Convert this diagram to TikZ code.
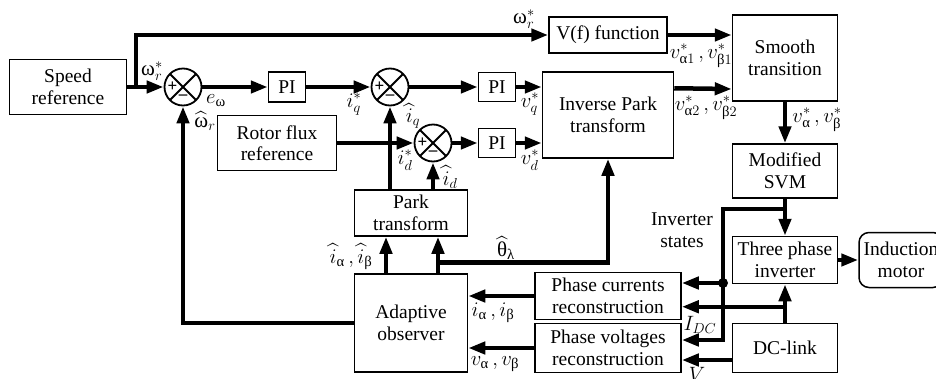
\documentclass[tikz,border=0pt]{standalone}
\usepackage{amsmath}
\usepackage{fontspec}
\setmainfont{Liberation Serif}
\usetikzlibrary{arrows.meta,calc}
% griechische Buchstaben aufrecht, aus der Textschrift
\newcommand{\gom}{\text{ω}}
\newcommand{\gal}{\text{α}}
\newcommand{\gbe}{\text{β}}
\newcommand{\gth}{\text{θ}}
\newcommand{\gla}{\text{λ}}

\begin{document}
\begin{tikzpicture}[x=1pt, y=-1pt, >=Triangle,
    every node/.style={font=\fontsize{19.5}{21.5}\selectfont},
    block/.style={draw, line width=1.5pt, align=center, inner sep=0pt},
    sumnode/.style={draw, circle, line width=1.8pt, minimum size=37pt, inner sep=0pt,
      path picture={
        \draw[line width=1.8pt] (path picture bounding box.south west) -- (path picture bounding box.north east)
          (path picture bounding box.north west) -- (path picture bounding box.south east);
        \node[font=\bfseries\fontsize{17}{17}\selectfont, inner sep=0pt] at ($(path picture bounding box.center)+(-10.5,0)$) {+};
        \node[font=\bfseries\fontsize{17}{17}\selectfont, inner sep=0pt] at ($(path picture bounding box.center)+(0,10.5)$) {--};
      }},
    sig/.style={line width=4.5pt, -{Triangle[length=17pt,width=12pt]}},
    lbl/.style={font=\fontsize{21}{21}\selectfont, inner sep=0pt}]
  \useasboundingbox (0,0) rectangle (936,378);

  % Drehzahlregelkreis
  \node[block, minimum width=117pt, minimum height=55pt] (spdref) at (68,87) {Speed\\reference};
  \node[sumnode] (sumw) at (183,87) {};
  \node[block, minimum width=37pt, minimum height=30pt] (piw) at (287,87) {PI};
  \node[block, minimum width=119pt, minimum height=55pt] (rotflux) at (277,143) {Rotor flux\\reference};

  % Stromregler
  \node[sumnode] (sumq) at (390,87) {};
  \node[sumnode] (sumd) at (433,143) {};
  \node[block, minimum width=37pt, minimum height=29pt] (piq) at (497,87) {PI};
  \node[block, minimum width=37pt, minimum height=29pt] (pid) at (497,143) {PI};
  \node[block, minimum width=131pt, minimum height=86pt] (invpark) at (608,115) {Inverse Park\\transform};
  \node[block, minimum width=118pt, minimum height=36pt] (vf) at (608,35) {V(f) function};

  % Modulation und Leistungsteil
  \node[block, minimum width=105pt, minimum height=86pt] (smooth) at (785,58) {Smooth\\transition};
  \node[block, minimum width=105pt, minimum height=54pt] (svm) at (785,171) {Modified\\SVM};
  \node[block, minimum width=105pt, minimum height=47pt] (inv) at (785,260) {Three phase\\inverter};
  \node[block, rounded corners=10pt, minimum width=84pt, minimum height=55pt] (motor) at (901,260) {Induction\\motor};
  \node[block, minimum width=105pt, minimum height=49pt] (dclink) at (785,348) {DC-link};

  % Rekonstruktion und Beobachter
  \node[block, minimum width=146pt, minimum height=47pt] (phcur) at (608,296) {Phase currents\\reconstruction};
  \node[block, minimum width=146pt, minimum height=49pt] (phvolt) at (608,348) {Phase voltages\\reconstruction};
  \node[block, minimum width=113pt, minimum height=98pt] (obs) at (411,323) {Adaptive\\observer};
  \node[block, minimum width=113pt, minimum height=46pt] (park) at (411,213) {Park\\transform};
  \node[align=center] (invst) at (682,230) {Inverter\\states};

  % Signalpfade oben
  \coordinate (tap) at (136,87);
  \draw[sig] (spdref.east) -- (sumw.west);
  \draw[sig] (tap) |- (vf.west);
  \draw[sig] (sumw) -- (piw);
  \draw[sig] (piw) -- (sumq);
  \draw[sig] (sumq) -- (piq);
  \draw[sig] (piq.east) -- (piq.east -| invpark.west);
  \draw[sig] (rotflux) -- (sumd);
  \draw[sig] (sumd) -- (pid);
  \draw[sig] (pid.east) -- (pid.east -| invpark.west);
  \draw[sig] (park.north -| sumq) -- (sumq);
  \draw[sig] (park.north -| sumd) -- (sumd);
  \draw[sig] (vf.east) -- (vf.east -| smooth.west);
  \draw[sig] ($(invpark.north east)+(0,17)$) -- ($(smooth.west)+(0,31)$);
  \draw[sig] (smooth) -- (svm);

  % Beobachter
  \draw[sig] ([xshift=-25pt]obs.north) -- ([xshift=-25pt]park.south);
  \draw[sig] ([xshift=27pt]obs.north) -- ([xshift=27pt]park.south);
  \draw[sig] ($([xshift=27pt]obs.north)+(0,-11)$) -| (invpark.south);
  \draw[sig] (obs.west) -| (sumw.south);
  \draw[sig] (phcur.west) -- (phcur.west -| obs.east);
  \draw[sig] (phvolt.west) -- (phvolt.west -| obs.east);

  % Wechselrichter
  \coordinate (st) at ($(svm.south)+(0,10)$);
  \coordinate (dot) at (723,283);
  \coordinate (stend) at (723,340);
  \coordinate (idc) at ($(dclink.north)+(0,-16)$);
  \coordinate (vdc) at ($(dclink.west)+(0,12)$);
  \draw[sig] (svm) -- (inv);
  \draw[sig] (st) -| (stend) -- (stend -| phvolt.east);
  \fill (dot) circle (5pt);
  \draw[sig] (dot) -- (dot -| phcur.east);
  \draw[sig] (dclink) -- (inv);
  \draw[sig] (idc) -- (idc -| phcur.east);
  \draw[sig] (vdc) -- (vdc -| phvolt.east);
  \draw[sig] (inv) -- (motor);

  % Beschriftungen
  \node[lbl] (lwin) at (152,71) {$\gom_r^*$};
  \node[lbl] (lwtop) at (524,19) {$\gom_r^*$};
  \node[lbl] (lew) at (216,101) {$e_\gom$};
  \node[lbl] (lwhat) at (205,121) {$\widehat{\gom}_r$};
  \node[lbl] (liq) at (354,104) {$i_q^*$};
  \node[lbl] (liqh) at (413,116) {$\widehat{i}_q$};
  \node[lbl] (lvq) at (530,104) {$v_q^*$};
  \node[lbl] (lid) at (405,160) {$i_d^*$};
  \node[lbl] (lidh) at (450,177) {$\widehat{i}_d$};
  \node[lbl] (lvd) at (530,160) {$v_d^*$};
  \node[lbl] (lv1) at (701,56) {$v^*_{\gal 1}\,,v^*_{\gbe 1}$};
  \node[lbl] (lv2) at (706,108) {$v^*_{\gal 2}\,,v^*_{\gbe 2}$};
  \node[lbl] (lvab) at (817,120) {$v^*_{\gal}\,,v^*_{\gbe}$};
  \node[lbl] (lidc) at (700,325) {$I_{DC}$};
  \node[lbl] (lvdc) at (697,374) {$V$};
  \node[lbl] (lth) at (506,248) {$\widehat{\gth}_\gla$};
  \node[lbl] (liab) at (351,257) {$\widehat{i}_\gal\,,\widehat{i}_\gbe$};
  \node[lbl] (liab2) at (493,313) {$i_\gal\,,i_\gbe$};
  \node[lbl] (lvab2) at (495,364) {$v_\gal\,,v_\gbe$};
\end{tikzpicture}
\end{document}
